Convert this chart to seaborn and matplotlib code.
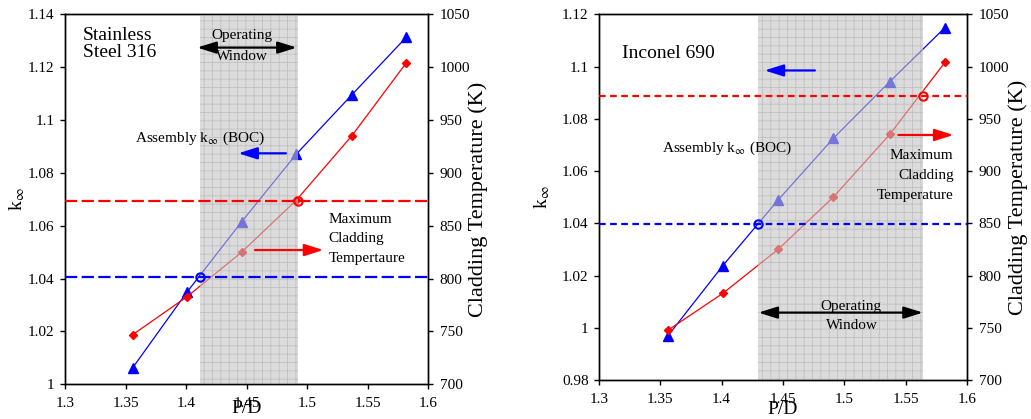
import matplotlib
matplotlib.use("Agg")
import numpy as np
import matplotlib.pyplot as plt
import seaborn as sns
from matplotlib.ticker import FuncFormatter, MultipleLocator
from matplotlib.transforms import blended_transform_factory

# P/D of the assemblies (same for both cladding materials)
pd_ratio = [1.356, 1.401, 1.446, 1.491, 1.537, 1.582]

# Stainless Steel 316
ss_kinf = [1.0063, 1.0350, 1.0615, 1.0870, 1.1095, 1.1313]
ss_temp = [747, 783, 825, 874, 935, 1004]
ss_k_limit = 1.0405
ss_t_limit = 873
ss_window = [1.4116, 1.4923]

# Inconel 690
in_kinf = [0.9968, 1.0238, 1.0489, 1.0725, 1.0942, 1.1149]
in_temp = [747.5, 783, 825, 875, 935, 1004]
in_k_limit = 1.0397
in_t_limit = 972
in_window = [1.4294, 1.5641]

sns.set_style("ticks", {"axes.edgecolor": "black", "xtick.color": "black",
                        "ytick.color": "black", "text.color": "black",
                        "axes.labelcolor": "black"})
plt.rcParams["font.family"] = ["Liberation Serif", "DejaVu Serif"]
plt.rcParams["mathtext.fontset"] = "stix"
plt.rcParams["axes.linewidth"] = 1.0
plt.rcParams["hatch.linewidth"] = 0.6
plt.rcParams["xtick.major.size"] = 3.5
plt.rcParams["ytick.major.size"] = 3.5

fmt = FuncFormatter(lambda v, p: f"{v:g}")


def arrow(ax, start, end, y, color, both=False, transform=None):
    style = "<|-|>" if both else "-|>"
    ax.annotate("", xy=(end, y), xytext=(start, y),
                xycoords=transform, textcoords=transform,
                arrowprops=dict(arrowstyle=style + ",head_length=0.95,head_width=0.3",
                                color=color, lw=1.6, mutation_scale=12,
                                shrinkA=0, shrinkB=0), zorder=5)


def draw_panel(ax, kinf, temp, k_limit, t_limit, window, k_lim, dash, tick_fs):
    tx = ax.twinx()
    sns.lineplot(x=pd_ratio, y=kinf, ax=ax, color="blue", marker="^",
                 markersize=6.5, markeredgewidth=1, markeredgecolor="blue",
                 linewidth=0.9, zorder=2)
    sns.lineplot(x=pd_ratio, y=temp, ax=tx, color="red", marker="D",
                 markersize=4.4, markeredgewidth=1, markeredgecolor="red",
                 linewidth=0.9, zorder=2)
    # operating window: translucent grey with fine grid
    tx.axvspan(window[0], window[1], facecolor=(0.767, 0.767, 0.767, 0.6),
               edgecolor=(0.45, 0.45, 0.45, 0.25), linewidth=0, hatch="++",
               zorder=2.5)
    k_on_tx = blended_transform_factory(tx.transAxes, ax.transData)
    tx.plot([0, 1], [k_limit, k_limit], transform=k_on_tx, color="blue",
            lw=1.6, dashes=dash, zorder=3)
    tx.axhline(t_limit, color="red", lw=1.6, dashes=dash, zorder=3)
    tx.plot([window[0]], [k_limit], transform=ax.transData, marker="o",
            mfc="none", mec="blue", ms=6, mew=1.5, zorder=4)
    tx.plot([window[1]], [t_limit], marker="o", mfc="none", mec="red",
            ms=6, mew=1.5, zorder=4)

    ax.set_xlim(1.3, 1.6)
    ax.set_ylim(*k_lim)
    tx.set_ylim(700, 1050)
    ax.xaxis.set_major_locator(MultipleLocator(0.05))
    ax.yaxis.set_major_locator(MultipleLocator(0.02))
    tx.yaxis.set_major_locator(MultipleLocator(50))
    for a in (ax, tx):
        a.xaxis.set_major_formatter(fmt)
        a.yaxis.set_major_formatter(fmt)
        a.tick_params(labelsize=tick_fs, width=1.0)
        for s in a.spines.values():
            s.set_visible(True)
    ax.tick_params(axis="x", pad=6)
    ax.tick_params(axis="y", pad=4)
    tx.tick_params(axis="y", pad=5)
    ax.set_xlabel("P/D", fontsize=14)
    ax.set_ylabel(r"k$_\infty$", fontsize=14)
    tx.set_ylabel("Cladding Temperature (K)", fontsize=16)
    return tx


fig = plt.figure(figsize=(10.31, 4.19), dpi=100)
axL = fig.add_axes([65 / 1031, 34.7 / 419, 363 / 1031, 370 / 419])
axR = fig.add_axes([599 / 1031, 39 / 419, 368 / 1031, 365.7 / 419])

# ---- Stainless Steel 316
txL = draw_panel(axL, ss_kinf, ss_temp, ss_k_limit, ss_t_limit, ss_window,
                 (1.0, 1.14), (5.5, 2), 11)
axL.xaxis.set_label_coords(0.5, -0.042)
axL.yaxis.set_label_coords(-0.105, 0.5)
txL.yaxis.set_label_coords(1.11, 0.5)
kL = axL.transData
txL.text(1.3146, 1.1352, "Stainless\nSteel 316", transform=kL, fontsize=14,
         ha="left", va="top", linespacing=1.0, zorder=5)
txL.text(1.4465, 1.1318, "Operating", transform=kL, fontsize=11,
         ha="center", va="center", zorder=5)
txL.text(1.4465, 1.1242, "Window", transform=kL, fontsize=11,
         ha="center", va="center", zorder=5)
arrow(txL, 1.4093, 1.4915, 1.1274, "black", both=True, transform=kL)
txL.text(1.3579, 1.0931, r"Assembly k$_\infty$ (BOC)", transform=kL,
         fontsize=11, ha="left", va="center", zorder=5)
arrow(txL, 1.4826, 1.4432, 1.0874, "blue", transform=kL)
arrow(txL, 1.457, 1.5135, 827, "red", transform=txL.transData)
for y, s in zip([856, 838, 819], ["Maximum", "Cladding", "Tempertaure"]):
    txL.text(1.5176, y, s, fontsize=11, ha="left", va="center", zorder=5)

# ---- Inconel 690
txR = draw_panel(axR, in_kinf, in_temp, in_k_limit, in_t_limit, in_window,
                 (0.98, 1.12), (3, 2), 11)
axR.xaxis.set_label_coords(0.5, -0.057)
axR.yaxis.set_label_coords(-0.128, 0.5)
txR.yaxis.set_label_coords(1.112, 0.5)
kR = axR.transData
txR.text(1.3185, 1.1051, "Inconel 690", transform=kR, fontsize=14,
         ha="left", va="center", zorder=5)
txR.text(1.5055, 1.0083, "Operating", transform=kR, fontsize=11,
         ha="center", va="center", zorder=5)
txR.text(1.506, 1.0007, "Window", transform=kR, fontsize=11,
         ha="center", va="center", zorder=5)
arrow(txR, 1.430, 1.564, 1.0058, "black", both=True, transform=kR)
txR.text(1.404, 1.0687, r"Assembly k$_\infty$ (BOC)", transform=kR,
         fontsize=11, ha="center", va="center", zorder=5)
arrow(txR, 1.476, 1.435, 1.0985, "blue", transform=kR)
arrow(txR, 1.544, 1.589, 934.5, "red", transform=txR.transData)
for y, s in zip([914.7, 895.5, 877], ["Maximum", "Cladding", "Temperature"]):
    txR.text(1.589, y, s, fontsize=11, ha="right", va="center", zorder=5)

fig.savefig("out.png", dpi=100)
